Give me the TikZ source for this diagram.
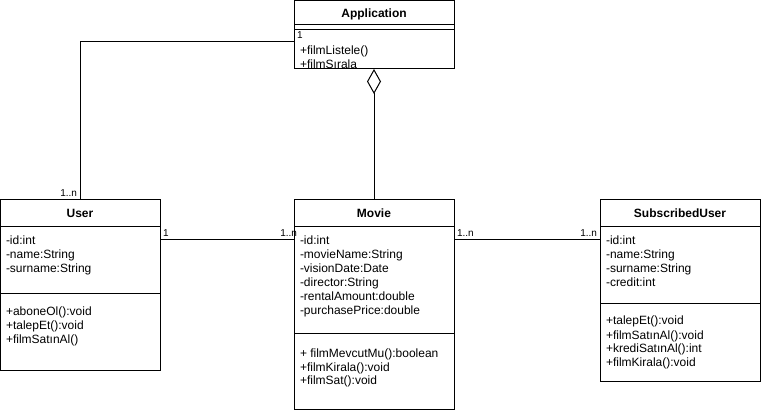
\documentclass[tikz,border=0pt]{standalone}
\usepackage{fontspec}
\setmainfont{Liberation Sans}
\usetikzlibrary{positioning,arrows.meta}

% members compartment: height, gap above first baseline, lines
\newcommand{\umlpart}[3]{\parbox[t][#1][t]{148pt}{\rule{0pt}{#2}#3}}

\begin{document}
\begin{tikzpicture}[x=1pt, y=-1pt, line width=1pt, node distance=0pt,
  font=\fontsize{12pt}{14pt}\selectfont,
  head/.style={draw, outer sep=0pt, minimum width=160pt, minimum height=27pt, text depth=0pt, font=\fontsize{12pt}{14pt}\selectfont\bfseries},
  part/.style={draw, outer sep=0pt, inner xsep=6pt, inner ysep=0pt, minimum width=160pt},
  agg/.style={{Diamond[open, length=25pt, width=14pt]}-},
  lab/.style={font=\fontsize{10pt}{12pt}\selectfont, inner sep=2.5pt}]
\useasboundingbox (0,0) rectangle (761,414);
% Application
\node[head, minimum height=24pt] (app) at (374,13) {Application};
\node[part, minimum height=5pt, below=of app] (appattr) {};
\node[part, below=of appattr] (appmeth) {\umlpart{39pt}{25pt}{+filmListele()\\+filmSırala}};
% User
\node[head] (user) at (80,213.5) {User};
\node[part, below=of user] (userattr) {\umlpart{67pt}{18pt}{-id:int\\-name:String\\-surname:String}};
\node[part, below=of userattr] (usermeth) {\umlpart{76pt}{22pt}{+aboneOl():void\\+talepEt():void\\+filmSatınAl()}};
% Movie
\node[head] (movie) at (374,213.5) {Movie};
\node[part, below=of movie] (movieattr) {\umlpart{107pt}{18pt}{-id:int\\-movieName:String\\-visionDate:Date\\-director:String\\-rentalAmount:double\\-purchasePrice:double}};
\node[part, below=of movieattr] (moviemeth) {\umlpart{75pt}{23pt}{+ filmMevcutMu():boolean\\+filmKirala():void\\+filmSat():void}};
% SubscribedUser
\node[head] (sub) at (680,213.5) {SubscribedUser};
\node[part, below=of sub] (subattr) {\umlpart{77pt}{18pt}{-id:int\\-name:String\\-surname:String\\-credit:int}};
\node[part, below=of subattr] (submeth) {\umlpart{77pt}{21pt}{+talepEt():void\\+filmSatınAl():void\\+krediSatınAl():int\\+filmKirala():void}};
% associations
\draw ([yshift=-12pt]appmeth.north west) -- node[lab, at start, above right]{1} ++(0,0) -| node[lab, at end, above left]{1..n} (user.north);
\draw ([yshift=-13pt]userattr.north east) -- node[lab, at start, above right]{1} node[lab, at end, above left, xshift=6pt]{1..n} ([yshift=-13pt]movieattr.north west);
\draw ([yshift=-13pt]movieattr.north east) -- node[lab, at start, above right]{1..n} node[lab, at end, above left]{1..n} ([yshift=-13pt]subattr.north west);
\draw[agg] (appmeth.south) -- (movie.north);
\end{tikzpicture}
\end{document}
